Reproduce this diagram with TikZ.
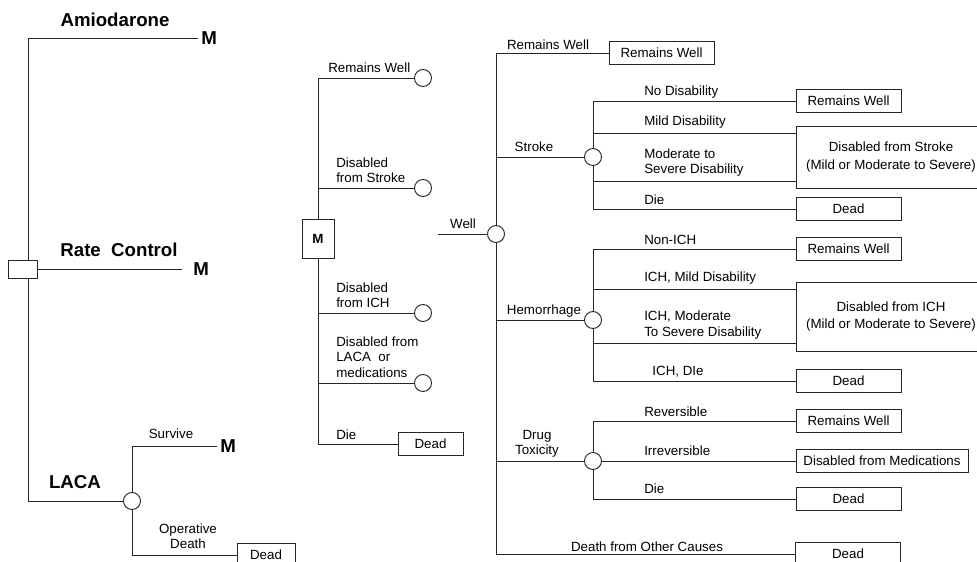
\documentclass[tikz,border=0pt]{standalone}
\usepackage{fontspec}
\setmainfont{Liberation Sans}
\newcommand{\branchfont}{\fontsize{10}{11.5}\selectfont}
\tikzset{
  treeline/.style={line width=0.7pt, black!85},
  chancenode/.style={circle, draw, line width=0.7pt, black!85, fill=white, minimum size=12.75pt, inner sep=0pt},
  decbox/.style={draw, line width=0.7pt, black!85, minimum width=21.75pt, minimum height=13.5pt, inner sep=0pt},
  mbox/.style={draw, line width=0.7pt, black!85, minimum width=24pt, minimum height=29.25pt, inner sep=0pt, text=black, font=\fontsize{10}{12}\selectfont\bfseries},
  endbox/.style={draw, line width=0.7pt, black!85, text=black, minimum height=17.25pt, inner sep=0pt, font=\branchfont},
  branchlab/.style={inner sep=0pt, font=\branchfont},
  optlab/.style={inner sep=0pt, font=\fontsize{14}{16}\selectfont\bfseries},
}
\begin{document}
\begin{tikzpicture}[x=0.75pt, y=-0.75pt]
        \useasboundingbox (0,0) rectangle (977,561);
        \fill[white] (0,0) rectangle (977,561);
        % strategies
            \node[decbox] (dec) at (22.5,269) {};
            \coordinate (trunk) at (28,269);
            \node[optlab, anchor=west] (mA) at (201,38) {M};
            \node[optlab, anchor=west] (mR) at (193,269) {M};
            \node[chancenode] (cL) at (132,501) {};
            \node[optlab, anchor=west] (mS) at (220,446) {M};
            \node[endbox, minimum width=43.5pt] (dL) at (266,555) {Dead};
            \draw[treeline] (dec.north -| trunk) |- ([xshift=-2pt]mA.west);
            \draw[treeline] (dec.east) -- ([xshift=-8pt]mR.west);
            \draw[treeline] (dec.south -| trunk) |- (cL.west);
            \draw[treeline] (cL.north) |- ([xshift=-2pt]mS.west);
            \draw[treeline] (cL.south) |- (dL.west);
            \node[optlab] at (115,20) {Amiodarone};
            \node[optlab] at (119,250) {Rate\ \ Control};
            \node[optlab] at (75,482) {LACA};
            \node[branchlab] at (171,434) {Survive};
            \node[branchlab, align=center] at (188,536) {Operative\\Death};
        % markov states
            \node[mbox] (mM) at (318,238.5) {M};
            \foreach \n/\y in {m1/78,m2/188,m3/313,m4/383}{
                \node[chancenode] (\n) at (423,\y) {};
            }
            \node[endbox, minimum width=48.75pt] (dM) at (430.5,444) {Dead};
            \foreach \n in {m1,m2}{
                \draw[treeline] (mM.north) |- (\n.west);
            }
            \foreach \n in {m3,m4,dM}{
                \draw[treeline] (mM.south) |- (\n.west);
            }
            \node[branchlab, anchor=west] at (328,68) {Remains Well};
            \node[branchlab, anchor=west, align=left] at (336,170) {Disabled\\from Stroke};
            \node[branchlab, anchor=west, align=left] at (336,295) {Disabled\\from ICH};
            \node[branchlab, anchor=west, align=left] at (336,357) {Disabled from\\LACA\ \ or\\medications};
            \node[branchlab, anchor=west] at (336,435) {Die};
        % well state
            \node[chancenode] (cW) at (496,234) {};
            \coordinate (wIn) at (438,234);
            \draw[treeline] (wIn) -- (cW.west);
            \node[branchlab] at (463,224) {Well};
            \node[endbox, minimum width=78.75pt] (r0) at (661.5,53) {Remains Well};
            \node[chancenode] (cS) at (593,157) {};
            \node[chancenode] (cH) at (593,320) {};
            \node[chancenode] (cD) at (593,461) {};
            \node[endbox, minimum width=78.75pt] (dO) at (848,554) {Dead};
            \draw[treeline] (cW.north) |- (r0.west);
            \draw[treeline] (cW.north) |- (cS.west);
            \foreach \n in {cH,cD,dO}{
                \draw[treeline] (cW.south) |- (\n.west);
            }
        % outcomes
            \foreach \n/\y/\t in {sRW/101/Remains Well,sD/209/Dead,hRW/249/Remains Well,hD/381/Dead,dRW/421/Remains Well,dDd/499/Dead}{
                \node[endbox, minimum width=78.75pt] (\n) at (848.5,\y) {\t};
            }
            \node[endbox, minimum width=142.5pt, minimum height=46.5pt, align=center, font=\fontsize{10}{13.5}\selectfont] (sDis) at (891,157) {Disabled from Stroke\\(Mild or Moderate to Severe)};
            \node[endbox, minimum width=142.5pt, minimum height=51.75pt, align=center, font=\fontsize{10}{13}\selectfont] (hDis) at (891,316.5) {Disabled from ICH\\(Mild or Moderate to Severe)};
            \node[endbox, minimum width=129pt] (dMed) at (882,461) {Disabled from Medications};
            \draw[treeline] (cS.north) |- (sRW.west);
            \draw[treeline] (cS.north) |- ([yshift=18pt]sDis.west);
            \draw[treeline] (cS.south) |- ([yshift=-18pt]sDis.west);
            \draw[treeline] (cS.south) |- (sD.west);
            \draw[treeline] (cH.north) |- (hRW.west);
            \draw[treeline] (cH.north) |- ([yshift=20.6pt]hDis.west);
            \draw[treeline] (cH.south) |- ([yshift=-19.9pt]hDis.west);
            \draw[treeline] (cH.south) |- (hD.west);
            \draw[treeline] (cD.north) |- (dRW.west);
            \draw[treeline] (cD.east) -- (dMed.west);
            \draw[treeline] (cD.south) |- (dDd.west);
        % labels
            \foreach \y/\t in {92/No Disability,122/Mild Disability,200/Die,240/Non-ICH,278/{ICH, Mild Disability},412/Reversible,451/Irreversible,489/Die}{
                \node[branchlab, anchor=west] at (644,\y) {\t};
            }
            \node[branchlab, anchor=west, align=left] at (644,162.5) {Moderate to\\Severe Disability};
            \node[branchlab, anchor=west, align=left] at (644,325) {ICH, Moderate\\To Severe Disability};
            \node[branchlab] at (678,372) {ICH, DIe};
            \node[branchlab] at (548,45) {Remains Well};
            \node[branchlab] at (534,147) {Stroke};
            \node[branchlab] at (544,311) {Hemorrhage};
            \node[branchlab, align=center] at (537,444) {Drug\\Toxicity};
            \node[branchlab] at (647,547) {Death from Other Causes};
        \end{tikzpicture}
\end{document}
